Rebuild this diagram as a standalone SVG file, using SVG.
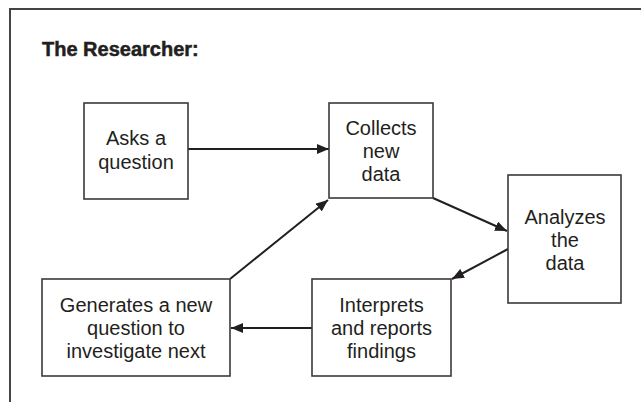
<svg xmlns="http://www.w3.org/2000/svg" width="641" height="402" viewBox="0 0 641 402">
<defs>
<marker id="ah" viewBox="0 0 12 10" refX="12" refY="5" markerWidth="12" markerHeight="10" markerUnits="userSpaceOnUse" orient="auto">
<path d="M0,0 L12,5 L0,10 Z" fill="#231f20"/>
</marker>
<style>
.box{fill:#fff;stroke:#3a3a3a;stroke-width:1.6}
.t{font-family:"Liberation Sans",Arial,sans-serif;font-size:20px;fill:#231f20;text-anchor:middle}
.title{font-family:"Liberation Sans",Arial,sans-serif;font-size:20px;font-weight:bold;fill:#231f20;stroke:#231f20;stroke-width:0.5}
.c{stroke:#231f20;stroke-width:2;fill:none;marker-end:url(#ah)}
.frame{stroke:#444;stroke-width:2;fill:none}
</style>
</defs>
<rect width="641" height="402" fill="#fff"/>
<path class="frame" d="M10,402 V9 H641"/>
<text class="title" x="42" y="56">The Researcher:</text>
<g id="connectors">
<line class="c" x1="188" y1="149" x2="329" y2="149"/>
<line class="c" x1="433" y1="198" x2="507" y2="231"/>
<line class="c" x1="508" y1="249" x2="452" y2="279"/>
<line class="c" x1="312" y1="328" x2="231" y2="328"/>
<line class="c" x1="230" y1="279" x2="328" y2="200"/>
</g>
<g id="asks">
<rect class="box" x="84" y="103" width="104" height="96"/>
<text class="t" x="136" y="145">Asks a</text>
<text class="t" x="136" y="169">question</text>
</g>
<g id="collects">
<rect class="box" x="329" y="103" width="104" height="95"/>
<text class="t" x="381" y="135">Collects</text>
<text class="t" x="381" y="158">new</text>
<text class="t" x="381" y="181">data</text>
</g>
<g id="analyzes">
<rect class="box" x="508" y="175" width="113" height="128"/>
<text class="t" x="565" y="224">Analyzes</text>
<text class="t" x="565" y="247">the</text>
<text class="t" x="565" y="270">data</text>
</g>
<g id="interprets">
<rect class="box" x="312" y="279" width="139" height="97"/>
<text class="t" x="381.5" y="312">Interprets</text>
<text class="t" x="381.5" y="335">and reports</text>
<text class="t" x="381.5" y="358">findings</text>
</g>
<g id="generates">
<rect class="box" x="42" y="279" width="188" height="97"/>
<text class="t" x="136" y="312">Generates a new</text>
<text class="t" x="136" y="335">question to</text>
<text class="t" x="136" y="358">investigate next</text>
</g>
</svg>
